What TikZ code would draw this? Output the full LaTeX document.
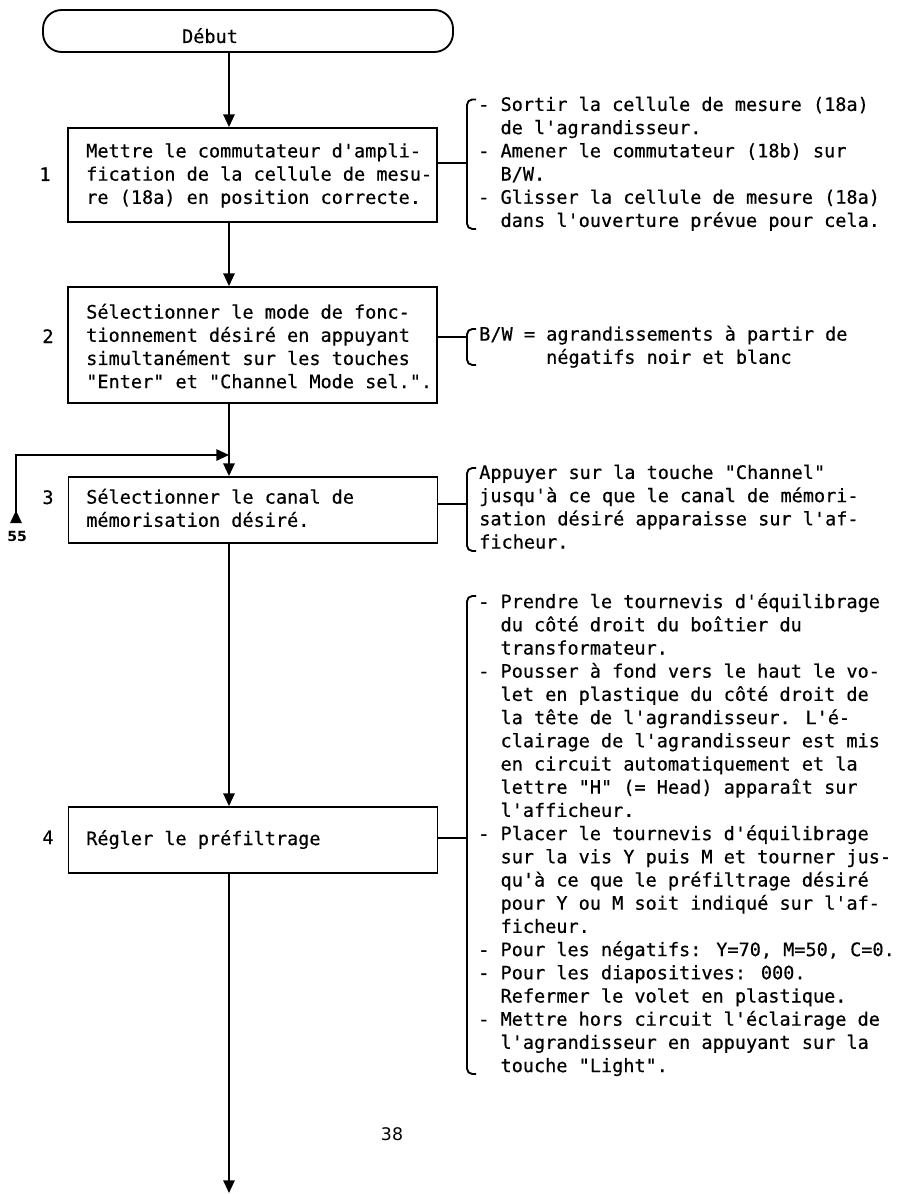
\documentclass[tikz,border=0pt]{standalone}
\usepackage{fontspec}
\newfontfamily\dm[FakeBold=0.5]{DejaVu Sans Mono}
\newfontfamily\dsans{DejaVu Sans}
\usetikzlibrary{arrows.meta}
\newlength\pxl \setlength\pxl{0.75pt}
\newcommand\ii{\phantom{xx}}
\newcommand\isix{\phantom{xxxxxx}}
\begin{document}
\begin{tikzpicture}[x=0.75pt,y=-0.75pt,
 lw/.style={line width=1.4pt},
 arr/.style={lw,-{Triangle[width=8.5pt,length=9.5pt]}},
 stepbox/.style={draw,lw,minimum width=369\pxl,inner sep=0pt},
 terminal/.style={draw,lw,rounded corners=14pt,minimum width=410\pxl,minimum height=42\pxl,inner sep=0pt},
 txt/.style={font=\dm\fontsize{13.9pt}{17.4pt}\selectfont,inner sep=0pt,align=left,anchor=north west,execute at begin node=\strut},
 num/.style={font=\dm\fontsize{13.9pt}{17.4pt}\selectfont,inner sep=0pt,anchor=base},
 brk/.style={lw,rounded corners=4pt},
]
\fill[white] (0,0) rectangle (897,1194);
\useasboundingbox (0,0) rectangle (897,1194);

% start
\node[terminal] (start) at (248,31) {};
\node[num] (startlbl) at (210,43) {Début};

\coordinate (mx) at (229,0);

% boxes
\node[stepbox,minimum height=94\pxl] (box1) at (252.5,175) {};
\node[stepbox,minimum height=116\pxl] (box2) at (252.5,345) {};
\node[stepbox,minimum height=66\pxl] (box3) at (253,510) {};
\node[stepbox,minimum height=66\pxl] (box4) at (253,840) {};

\node[txt] (t1) at (86,143) {Mettre le commutateur d'ampli-\\fication de la cellule de mesu-\\re (18a) en position correcte.};
\node[txt] (t2) at (86,303.5) {Sélectionner le mode de fonc-\\tionnement désiré en appuyant\\simultanément sur les touches\\"Enter" et "Channel Mode sel.".};
\node[txt] (t3) at (86,488.5) {Sélectionner le canal de\\mémorisation désiré.};
\node[txt] (t4) at (86,828.5) {Régler le préfiltrage};

% numbers
\node[num] (n1) at (45,181) {1};
\node[num] (n2) at (48,343) {2};
\node[num] (n3) at (48,504) {3};
\node[num] (n4) at (48,844) {4};

% main flow
\draw[arr] (start.south -| mx) -- (box1.north -| mx);
\draw[arr] (box1.south -| mx) -- (box2.north -| mx);
\draw[arr] (box2.south -| mx) -- (box3.north -| mx);
\coordinate (j) at (229,455);
\coordinate (from55) at (16,523);
\draw[lw,{Triangle[reversed,width=8.5pt,length=9.5pt]}-{Triangle[width=8.5pt,length=9.5pt]}] (from55) |- (j);
\node[font=\dsans\bfseries\fontsize{10.5pt}{12pt}\selectfont,inner sep=0pt,anchor=base] (p55) at (17,541) {55};
\draw[arr] (box3.south -| mx) -- (box4.north -| mx);
\coordinate (cont) at (229,1193);
\draw[arr] (box4.south -| mx) -- (cont);

% connectors to notes
\coordinate (k1) at (467,163);
\coordinate (k2) at (467,337);
\coordinate (k3) at (467,504);
\coordinate (k4) at (467,838);
\draw[lw] (k1 -| box1.east) -- (k1);
\draw[lw] (k2 -| box2.east) -- (k2);
\draw[lw] (k3 -| box3.east) -- (k3);
\draw[lw] (k4 -| box4.east) -- (k4);

% brackets
\draw[brk] (476,99.5) -- (467,99.5) -- (467,229) -- (476,229);
\draw[brk] (476,329) -- (467,329) -- (467,365) -- (476,365);
\draw[brk] (476,468) -- (467,468) -- (467,551) -- (476,551);
\draw[brk] (476,596) -- (467,596) -- (467,1074) -- (476,1074);

% notes
\node[txt] (note1) at (478,96.5) {- Sortir la cellule de mesure (18a)\\\ii de l'agrandisseur.\\- Amener le commutateur (18b) sur\\\ii B/W.\\- Glisser la cellule de mesure (18a)\\\ii dans l'ouverture prévue pour cela.};
\node[txt] (note2) at (479,325.5) {B/W = agrandissements à partir de\\\isix négatifs noir et blanc};
\node[txt] (note3) at (479,464.5) {Appuyer sur la touche "Channel"\\jusqu'à ce que le canal de mémori-\\sation désiré apparaisse sur l'af-\\ficheur.};
\node[txt] (note4) at (478,593) {- Prendre le tournevis d'équilibrage\\\ii du côté droit du boîtier du\\\ii transformateur.\\- Pousser à fond vers le haut le vo-\\\ii let en plastique du côté droit de\\\ii la tête de l'agrandisseur. L'é-\\\ii clairage de l'agrandisseur est mis\\\ii en circuit automatiquement et la\\\ii lettre "H" (= Head) apparaît sur\\\ii l'afficheur.\\- Placer le tournevis d'équilibrage\\\ii sur la vis Y puis M et tourner jus-\\\ii qu'à ce que le préfiltrage désiré\\\ii pour Y ou M soit indiqué sur l'af-\\\ii ficheur.\\- Pour les négatifs: Y=70, M=50, C=0.\\- Pour les diapositives: 000.\\\ii Refermer le volet en plastique.\\- Mettre hors circuit l'éclairage de\\\ii l'agrandisseur en appuyant sur la\\\ii touche "Light".};

% page number
\node[font=\dsans\fontsize{13pt}{15pt}\selectfont,inner sep=0pt,anchor=base] (pg) at (392,1140) {38};
\end{tikzpicture}
\end{document}
